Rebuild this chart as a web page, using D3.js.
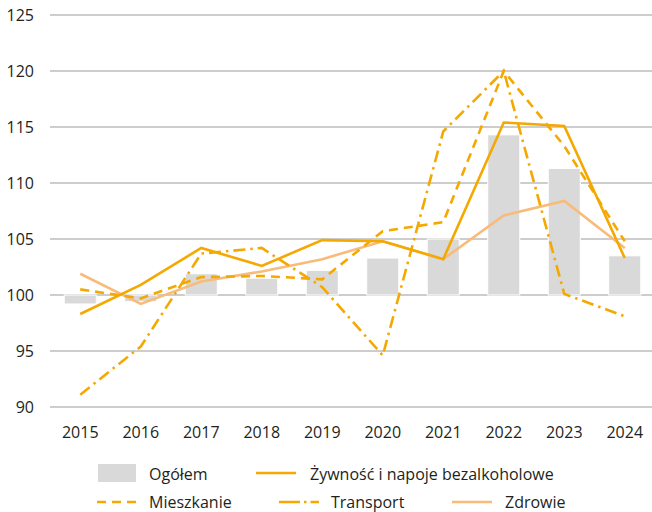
<!DOCTYPE html>
<html>
<head>
<meta charset="utf-8">
<script src="https://cdn.jsdelivr.net/npm/d3@7"></script>
<style>
  body { margin: 0; background: #fff; }
  text { font-family: "Open Sans", sans-serif; fill: #231f20; }
</style>
</head>
<body>
<div id="wrapper"></div>
<script>
// Data
const years = ["2015", "2016", "2017", "2018", "2019", "2020", "2021", "2022", "2023", "2024"]
const ogolem = [99.2, 99.4, 101.9, 101.5, 102.2, 103.3, 105.0, 114.3, 111.3, 103.5]
const zywnosc = [98.3, 100.9, 104.2, 102.6, 104.9, 104.8, 103.2, 115.4, 115.1, 103.3]
const mieszkanie = [100.5, 99.7, 101.6, 101.7, 101.4, 105.7, 106.5, 120.0, 113.3, 104.8]
const transport = [91.1, 95.4, 103.7, 104.2, 100.7, 94.6, 114.6, 120.0, 100.1, 98.1]
const zdrowie = [101.9, 99.2, 101.2, 102.1, 103.2, 104.8, 103.2, 107.1, 108.4, 104.2]
const yTicks = [90, 95, 100, 105, 110, 115, 120, 125]

const orange = "#f4a800"
const lightOrange = "#f8bb7a"
const barGray = "#d9d9d9"

const lineSeries = [
  { name: "Zdrowie", values: zdrowie, color: lightOrange, dash: null },
  { name: "Mieszkanie", values: mieszkanie, color: orange, dash: "9,6" },
  { name: "Transport", values: transport, color: orange, dash: "12,5,2.5,5" },
  { name: "Żywność i napoje bezalkoholowe", values: zywnosc, color: orange, dash: null },
]

const dimensions = {
  width: 652,
  height: 512,
  left: 50,
  right: 655,
  top: 15,
  bottom: 407,
}

const svg = d3.select("#wrapper")
  .append("svg")
  .attr("width", dimensions.width)
  .attr("height", dimensions.height)

// Scales
const xScale = d3.scaleBand()
  .domain(years)
  .range([dimensions.left, dimensions.right])
  .padding(0)

const yScale = d3.scaleLinear()
  .domain([90, 125])
  .range([dimensions.bottom, dimensions.top])

const cx = d => xScale(d) + xScale.bandwidth() / 2
const barWidth = xScale.bandwidth() * 0.53

// Gridlines
svg.append("g")
  .selectAll("line")
  .data(yTicks)
  .join("line")
  .attr("x1", dimensions.left)
  .attr("x2", dimensions.width)
  .attr("y1", d => yScale(d))
  .attr("y2", d => yScale(d))
  .attr("stroke", "#bcbcbc")
  .attr("stroke-width", 1.3)

// Y labels
svg.append("g")
  .selectAll("text")
  .data(yTicks)
  .join("text")
  .attr("x", 34)
  .attr("y", d => yScale(d) + 5.6)
  .attr("text-anchor", "end")
  .style("font-size", "16px")
  .text(d => d)

// X labels
svg.append("g")
  .selectAll("text")
  .data(years)
  .join("text")
  .attr("x", d => cx(d))
  .attr("y", 437.5)
  .attr("text-anchor", "middle")
  .style("font-size", "16px")
  .text(d => d)

// Bars
svg.append("g")
  .selectAll("rect")
  .data(years)
  .join("rect")
  .attr("x", d => cx(d) - barWidth / 2)
  .attr("width", barWidth)
  .attr("y", (d, i) => Math.min(yScale(ogolem[i]), yScale(100)))
  .attr("height", (d, i) => Math.abs(yScale(ogolem[i]) - yScale(100)))
  .attr("fill", barGray)
  .attr("stroke", "#fff")
  .attr("stroke-width", 1)

// Lines
const lineGen = d3.line()
  .x((d, i) => cx(years[i]))
  .y(d => yScale(d))

svg.append("g")
  .selectAll("path")
  .data(lineSeries)
  .join("path")
  .attr("d", d => lineGen(d.values))
  .attr("fill", "none")
  .attr("stroke", d => d.color)
  .attr("stroke-width", 2.6)
  .attr("stroke-dasharray", d => d.dash)
  .attr("stroke-linejoin", "miter")

// Legend
const legend = svg.append("g").style("font-size", "16px")

legend.append("rect")
  .attr("x", 98).attr("y", 464)
  .attr("width", 38).attr("height", 18)
  .attr("fill", barGray)
legend.append("text").attr("x", 149).attr("y", 479.5).text("Ogółem")

legend.append("line")
  .attr("x1", 256).attr("x2", 296).attr("y1", 473).attr("y2", 473)
  .attr("stroke", orange).attr("stroke-width", 2.6)
legend.append("text").attr("x", 310).attr("y", 479.5).text("Żywność i napoje bezalkoholowe")

legend.append("line")
  .attr("x1", 97).attr("x2", 137).attr("y1", 502).attr("y2", 502)
  .attr("stroke", orange).attr("stroke-width", 2.6)
  .attr("stroke-dasharray", "9,6")
legend.append("text").attr("x", 149).attr("y", 507.5).text("Mieszkanie")

legend.append("line")
  .attr("x1", 279).attr("x2", 319).attr("y1", 502).attr("y2", 502)
  .attr("stroke", orange).attr("stroke-width", 2.6)
  .attr("stroke-dasharray", "21,4,2.5,4")
legend.append("text").attr("x", 331).attr("y", 507.5).text("Transport")

legend.append("line")
  .attr("x1", 452).attr("x2", 492).attr("y1", 502).attr("y2", 502)
  .attr("stroke", lightOrange).attr("stroke-width", 2.6)
legend.append("text").attr("x", 505).attr("y", 507.5).text("Zdrowie")
</script>
</body>
</html>
